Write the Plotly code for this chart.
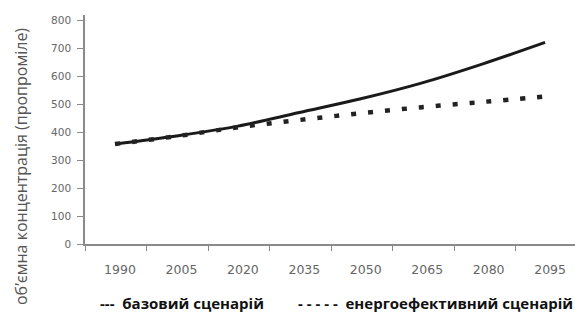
import plotly.graph_objects as go

# Data
years = [1990, 2005, 2020, 2035, 2050, 2065, 2080, 2095]
base_scenario = [358, 387, 422, 471, 520, 577, 646, 722]
efficient_scenario = [358, 386, 418, 444, 468, 490, 509, 528]
tick_years = [1990, 2005, 2020, 2035, 2050, 2065, 2080, 2095]
tick_labels = [str(y) for y in tick_years]
y_ticks = [0, 100, 200, 300, 400, 500, 600, 700, 800]

y_title = "об’ємна концентрація (пропроміле)"
legend_base = "---  базовий сценарій"
legend_eff = "- - - - -  енергоефективний сценарій"

W, H = 575, 313
ML, MR, MT, MB = 85, 0, 15, 69
PW, PH = W - ML - MR, H - MT - MB

def px_x(p):
    return (p - ML) / PW

def px_y(p):
    return (H - MB - p) / PH

axis_grey = "#8a8a8a"
label_grey = "#666666"

fig = go.Figure()
fig.add_trace(go.Scatter(
    x=years, y=base_scenario, mode="lines",
    line=dict(color="#1a1a1a", width=3, shape="spline"),
    showlegend=False, hoverinfo="skip"))
fig.add_trace(go.Scatter(
    x=years, y=efficient_scenario, mode="lines",
    line=dict(color="#222222", width=4.5, dash="5px,12px", shape="spline"),
    showlegend=False, hoverinfo="skip"))

fig.update_layout(
    width=W, height=H,
    margin=dict(l=ML, r=MR, t=MT, b=MB, autoexpand=False),
    paper_bgcolor="white", plot_bgcolor="white",
    showlegend=False,
    xaxis=dict(
        range=[1982.67, 2102.3], automargin=False,
        tickvals=tick_years, ticktext=tick_labels,
        ticks="", ticklabelstandoff=13, ticklabelshift=5,
        showgrid=False, zeroline=False,
        showline=True, linecolor=axis_grey, linewidth=1.5,
        tickfont=dict(family="DejaVu Sans", size=12.5, color=label_grey),
        minor=dict(ticks="outside", tick0=1997.8, dtick=15, ticklen=5,
                   tickcolor=axis_grey, tickwidth=1, showgrid=False),
    ),
    yaxis=dict(
        range=[0, 820], automargin=False,
        tickvals=y_ticks,
        ticks="outside", ticklen=6, tickcolor=axis_grey, tickwidth=1,
        ticklabelstandoff=4,
        showgrid=False, zeroline=False,
        showline=True, linecolor=axis_grey, linewidth=1.5,
        tickfont=dict(family="DejaVu Sans", size=10.5, color=label_grey),
    ),
    annotations=[
        dict(text=y_title, xref="paper", yref="paper",
             x=px_x(21), y=px_y(167), xanchor="center", yanchor="middle",
             textangle=-90, showarrow=False,
             font=dict(family="Open Sans", size=16, color="#555555")),
        dict(text="<b>" + legend_base + "</b>", xref="paper", yref="paper",
             x=px_x(98), y=px_y(303), xanchor="left", yanchor="middle",
             showarrow=False,
             font=dict(family="Open Sans", size=15, color="#111111")),
        dict(text="<b>" + legend_eff + "</b>", xref="paper", yref="paper",
             x=px_x(296), y=px_y(303), xanchor="left", yanchor="middle",
             showarrow=False,
             font=dict(family="Open Sans", size=15, color="#111111")),
    ],
)

fig.write_html("out.html",
               config={"displayModeBar": False},
               post_script="document.body.style.margin='0';document.body.style.overflow='hidden';")
